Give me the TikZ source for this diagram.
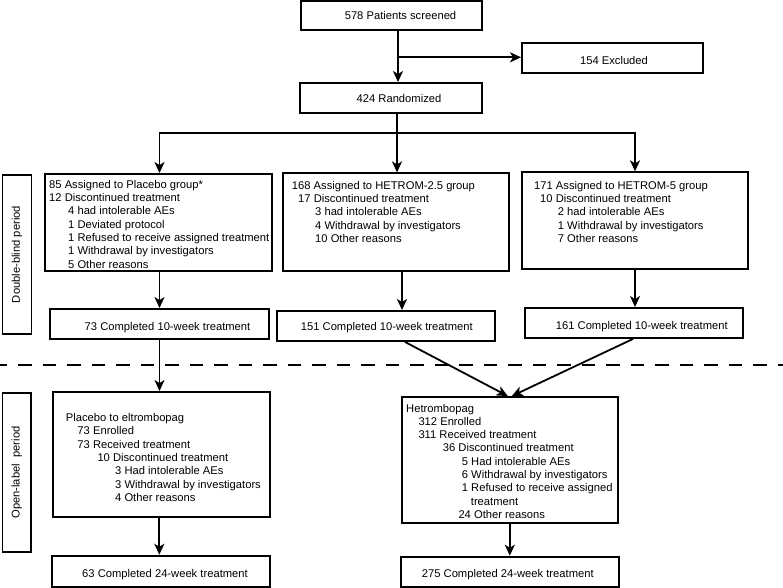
\documentclass[tikz,border=0pt]{standalone}
\usepackage{fontspec}
\setmainfont{Liberation Sans}
\usetikzlibrary{arrows.meta}
\newcommand\fs{\fontsize{11.2bp}{13.3bp}\selectfont}
\tikzset{
  frame/.style={draw=black, line width=1.9bp, inner sep=0pt},
  lbl/.style={inner sep=0pt, anchor=base, font=\fs},
  body/.style={inner sep=0pt, anchor=north west, align=left, font=\fs},
  conn/.style={line width=1.8bp},
  arr/.style={conn, -{Stealth[length=11bp,width=10bp,inset=3bp]}},
}
\begin{document}
\begin{tikzpicture}[x=1bp,y=-1bp]
\useasboundingbox (0,0) rectangle (783,588);

% top boxes
\node[frame, minimum width=181bp, minimum height=29bp] (screen) at (391.5,15.5) {};
\node[lbl] (screenT) at (400.5,20) {578 Patients screened};
\node[frame, minimum width=181bp, minimum height=30bp] (excl) at (612.5,58) {};
\node[lbl] (exclT) at (614,65) {154 Excluded};
\node[frame, minimum width=182bp, minimum height=30bp] (rand) at (391,98) {};
\node[lbl] (randT) at (399,102.3) {424 Randomized};

% group boxes
\node[frame, minimum width=227bp, minimum height=97bp] (g1) at (158.5,222.5) {};
\node[body] (g1T) at (49,180) {85 Assigned to Placebo group*\\
12 Discontinued treatment\\
\hspace*{19bp}4 had intolerable AEs\\
\hspace*{19bp}1 Deviated protocol\\
\hspace*{19bp}1 Refused to receive assigned treatment\\
\hspace*{19bp}1 Withdrawal by investigators\\
\hspace*{19bp}5 Other reasons};

\node[frame, minimum width=226bp, minimum height=97.7bp] (g2) at (396,222.2) {};
\node[body] (g2T) at (291.7,181) {168 Assigned to HETROM-2.5 group\\
\hspace*{6.3bp}17 Discontinued treatment\\
\hspace*{23.3bp}3 had intolerable AEs\\
\hspace*{23.3bp}4 Withdrawal by investigators\\
\hspace*{23.3bp}10 Other reasons};

\node[frame, minimum width=226.6bp, minimum height=97bp] (g3) at (635,220.8) {};
\node[body] (g3T) at (534,181) {171 Assigned to HETROM-5 group\\
\hspace*{6bp}10 Discontinued treatment\\
\hspace*{23.7bp}2 had intolerable AEs\\
\hspace*{23.7bp}1 Withdrawal by investigators\\
\hspace*{23.7bp}7 Other reasons};

% completed 10-week
\node[frame, minimum width=219bp, minimum height=30bp] (c1) at (159.5,324) {};
\node[lbl] (c1T) at (167.5,330) {73 Completed 10-week treatment};
\node[frame, minimum width=218bp, minimum height=30bp] (c2) at (386,326) {};
\node[lbl] (c2T) at (386.8,330.7) {151 Completed 10-week treatment};
\node[frame, minimum width=218bp, minimum height=30bp] (c3) at (634,323) {};
\node[lbl] (c3T) at (641.8,329) {161 Completed 10-week treatment};

% open-label boxes
\node[frame, minimum width=217.3bp, minimum height=125bp] (o1) at (161.3,454.5) {};
\node[body] (o1T) at (65.7,413.3) {Placebo to eltrombopag\\
\hspace*{11.6bp}73 Enrolled\\
\hspace*{11.6bp}73 Received treatment\\
\hspace*{31.6bp}10 Discontinued treatment\\
\hspace*{49.3bp}3 Had intolerable AEs\\
\hspace*{49.3bp}3 Withdrawal by investigators\\
\hspace*{49.3bp}4 Other reasons};

\node[frame, minimum width=216.3bp, minimum height=126bp] (o2) at (509.8,460) {};
\node[body] (o2T) at (406,403.7) {Hetrombopag\\
\hspace*{12.3bp}312 Enrolled\\
\hspace*{12.3bp}311 Received treatment\\
\hspace*{36.7bp}36 Discontinued treatment\\
\hspace*{55.7bp}5 Had intolerable AEs\\
\hspace*{55.7bp}6 Withdrawal by investigators\\
\hspace*{55.7bp}1 Refused to receive assigned\\
\hspace*{64.7bp}treatment\\
\hspace*{52.3bp}24 Other reasons};

% completed 24-week
\node[frame, minimum width=218bp, minimum height=31bp] (f1) at (161,571.2) {};
\node[lbl] (f1T) at (165,577.3) {63 Completed 24-week treatment};
\node[frame, minimum width=218bp, minimum height=30.3bp] (f2) at (510,571.8) {};
\node[lbl] (f2T) at (507.8,577.3) {275 Completed 24-week treatment};

% side labels
\node[frame, rotate=90, minimum width=159bp, minimum height=29bp, font=\fs] (db) at (17,254.5) {Double-blind period};
\node[frame, rotate=90, minimum width=159bp, minimum height=28.5bp, font=\fs] (ol) at (16.8,472.5) {Open-label\hspace{0.3em} period};

% dashed separator
\coordinate (dl) at (0,365);
\coordinate (dr) at (783,365);
\draw[conn, dash pattern=on 13.3bp off 11.2bp, dash phase=6.3bp] (dl) -- (dr);

% connectors
\coordinate (j1) at (398,57.3);
\draw[arr] (screen.south -| j1) -- (rand.north -| j1);
\draw[arr] (j1) -- (j1 -| excl.west);
\coordinate (br) at (397,133);
\coordinate (bl) at (159.5,133);
\coordinate (bR) at (635,133);
\draw[conn] (rand.south -| br) -- (br);
\draw[arr] (br) -- (bl) -- (bl |- g1.north);
\draw[arr] (br) -- (bR) -- (bR |- g3.north);
\draw[arr] (br) -- (br |- g2.north);

\draw[arr] (c1.north |- g1.south) -- (c1.north);
\draw[arr] ([xshift=6bp]g2.south) -- ([xshift=16bp]c2.north);
\draw[arr] (g3.south) -- (g3.south |- c3.north);

\draw[arr] (c1.south) -- (c1.south |- o1.north);
\draw[arr] ([xshift=19bp]c2.south) -- ([xshift=-2bp]o2.north);
\draw[arr] ([xshift=-1bp]c3.south) -- ([xshift=2bp]o2.north);

\draw[arr] ([xshift=-2bp]o1.south) -- ([xshift=-2bp]o1.south |- f1.north);
\draw[arr] (o2.south) -- (o2.south |- f2.north);
\end{tikzpicture}
\end{document}
